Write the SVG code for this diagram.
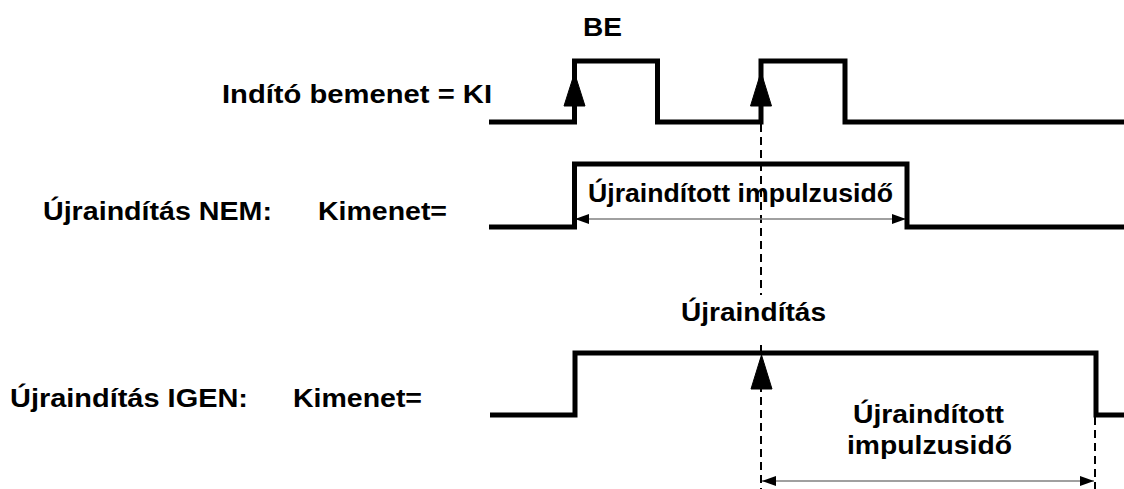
<svg xmlns="http://www.w3.org/2000/svg" width="1124" height="489" viewBox="0 0 1124 489">
<style>
.lbl{font-family:"Liberation Sans",Arial,sans-serif;font-weight:bold;font-size:26px;fill:#000}
.sig{fill:none;stroke:#000;stroke-width:5;stroke-linejoin:miter;stroke-linecap:butt}
.edge{fill:#000;stroke:#000;stroke-width:1}
.dash{fill:none;stroke:#000;stroke-width:2;stroke-dasharray:8 5}
.dim{fill:none;stroke:#808080;stroke-width:1.6}
</style>
<defs>
<marker id="ah" viewBox="0 0 14 10" refX="14" refY="5" markerWidth="14" markerHeight="10" markerUnits="userSpaceOnUse" orient="auto-start-reverse">
<path d="M0,0 L14,5 L0,10 Z" fill="#000"/>
</marker>
</defs>
<rect width="1124" height="489" fill="#fff"/>

<g id="connectors">
<line class="dash" x1="761" y1="124" x2="761" y2="295"/>
<line class="dash" x1="761" y1="345" x2="761" y2="489"/>
<line class="dash" x1="1095" y1="417" x2="1095" y2="489"/>
<line class="dim" x1="575" y1="219" x2="906" y2="219" marker-start="url(#ah)" marker-end="url(#ah)"/>
<line class="dim" x1="762" y1="481" x2="1094" y2="481" marker-start="url(#ah)" marker-end="url(#ah)"/>
</g>

<g id="input-signal">
<polyline class="sig" points="489,122 574.5,122 574.5,61 657.5,61 657.5,122 761,122 761,61 845,61 845,122 1124,122"/>
<polygon class="edge" points="574.5,73 564,106 585,106"/>
<polygon class="edge" points="761,72 750.5,106 771.5,106"/>
</g>

<g id="output-no-retrigger">
<polyline class="sig" points="489,227 574.5,227 574.5,164 907,164 907,227 1124,227"/>
</g>

<g id="output-retrigger">
<polyline class="sig" points="490,415 575,415 575,353 1096,353 1096,415 1124,415"/>
<polygon class="edge" points="761.5,355 751,389 772,389"/>
</g>

<g id="label-be"><text class="lbl" x="583" y="36" textLength="39" lengthAdjust="spacingAndGlyphs">BE</text></g>
<g id="label-input"><text class="lbl" x="222" y="103" textLength="270" lengthAdjust="spacingAndGlyphs">Indító bemenet = KI</text></g>
<g id="label-nem"><text class="lbl" x="43" y="220" textLength="229" lengthAdjust="spacingAndGlyphs">Újraindítás NEM:</text></g>
<g id="label-kimenet1"><text class="lbl" x="318" y="220" textLength="129" lengthAdjust="spacingAndGlyphs">Kimenet=</text></g>
<g id="label-pulse1"><text class="lbl" x="588" y="202" textLength="305" lengthAdjust="spacingAndGlyphs">Újraindított impulzusidő</text></g>
<g id="label-retrigger"><text class="lbl" x="681" y="321" textLength="145" lengthAdjust="spacingAndGlyphs">Újraindítás</text></g>
<g id="label-igen"><text class="lbl" x="10" y="407" textLength="238" lengthAdjust="spacingAndGlyphs">Újraindítás IGEN:</text></g>
<g id="label-kimenet2"><text class="lbl" x="293" y="407" textLength="129" lengthAdjust="spacingAndGlyphs">Kimenet=</text></g>
<g id="label-pulse2">
<text class="lbl" x="853" y="423" textLength="151" lengthAdjust="spacingAndGlyphs">Újraindított</text>
<text class="lbl" x="847" y="454" textLength="165" lengthAdjust="spacingAndGlyphs">impulzusidő</text>
</g>
</svg>
